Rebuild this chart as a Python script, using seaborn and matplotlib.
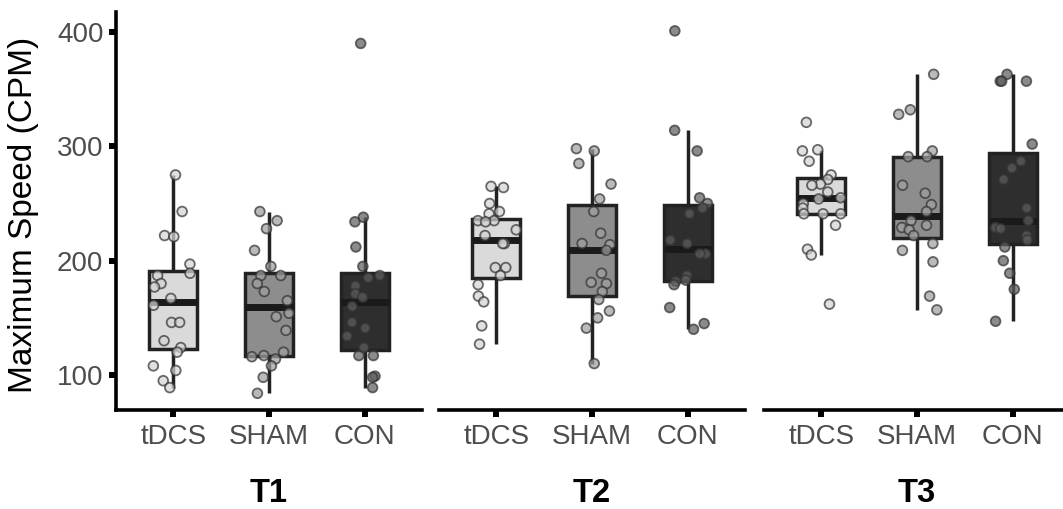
import numpy as np
import pandas as pd
import matplotlib
matplotlib.use("Agg")
import matplotlib.pyplot as plt
import seaborn as sns

# values (Maximum Speed, CPM)
groups = ["tDCS", "SHAM", "CON"]
times = ["T1", "T2", "T3"]

t1_tdcs = [275, 243, 222, 221, 197, 189, 187, 180, 177, 167, 161, 146, 146, 130, 124, 120, 108, 104, 95, 89]
t1_sham = [243, 235, 228, 209, 195, 187, 187, 180, 173, 165, 154, 151, 139, 120, 117, 116, 114, 108, 98, 84]
t1_con = [390, 238, 234, 212, 195, 187, 185, 178, 171, 168, 160, 146, 141, 134, 124, 117, 117, 99, 98, 89]

t2_tdcs = [265, 264, 250, 243, 241, 235, 235, 234, 227, 222, 215, 215, 194, 194, 187, 179, 169, 164, 143, 127]
t2_sham = [298, 296, 285, 267, 254, 243, 224, 215, 214, 209, 189, 181, 180, 173, 166, 156, 150, 141, 110]
t2_con = [401, 314, 296, 255, 250, 246, 241, 218, 215, 206, 206, 187, 183, 182, 179, 159, 145, 140]

t3_tdcs = [321, 297, 296, 287, 275, 271, 267, 266, 260, 255, 254, 250, 246, 241, 241, 241, 231, 210, 205, 162]
t3_sham = [363, 332, 328, 296, 291, 291, 266, 259, 249, 243, 235, 231, 229, 227, 222, 215, 209, 199, 169, 157]
t3_con = [363, 357, 357, 357, 302, 287, 281, 271, 246, 235, 229, 228, 222, 218, 212, 200, 189, 175, 147]

yticks = [100, 200, 300, 400]

box_colors = {"tDCS": "#dadada", "SHAM": "#8d8d8d", "CON": "#2e2e2e"}
pt_colors = {"tDCS": "#d4d4d4", "SHAM": "#a0a0a0", "CON": "#5e5e5e"}

# long table
rows = []
data = {"T1": [t1_tdcs, t1_sham, t1_con],
        "T2": [t2_tdcs, t2_sham, t2_con],
        "T3": [t3_tdcs, t3_sham, t3_con]}
for t in times:
    for g, vals in zip(groups, data[t]):
        for v in vals:
            rows.append((t, g, v))
df = pd.DataFrame(rows, columns=["time", "group", "speed"])

sns.set_style("white")
plt.rcParams["font.family"] = ["Liberation Sans", "DejaVu Sans"]

W, H = 1063, 509
fig = plt.figure(figsize=(W / 100, H / 100), dpi=100)
lefts = [116, 439, 764]
np.random.seed(3)

for i, t in enumerate(times):
    ax = fig.add_axes([lefts[i] / W, 1 - 410 / H, 306 / W, 398 / H])
    sub = df[df["time"] == t]
    sns.boxplot(data=sub, x="group", y="speed", hue="group", order=groups,
                hue_order=groups, palette=box_colors, width=0.5, linewidth=2.5,
                linecolor="#222222", showfliers=False, showcaps=False,
                medianprops=dict(linewidth=5, color="#1a1a1a"),
                legend=False, ax=ax)
    sns.stripplot(data=sub, x="group", y="speed", hue="group", order=groups,
                  hue_order=groups, palette=pt_colors, jitter=0.22, size=7,
                  linewidth=1.3, edgecolor="#333333", alpha=0.72,
                  legend=False, ax=ax)
    ax.set_xlim(-0.6, 2.6)
    ax.set_ylim(69.4, 417.5)
    ax.set_xlabel(t, fontsize=23.5, fontweight="bold", color="black")
    ax.xaxis.set_label_coords(0.5, -0.172)
    ax.tick_params(axis="x", bottom=True, labelsize=20, labelcolor="#4d4d4d",
                   length=5, width=4.3, color="black", pad=5)
    for s in ["top", "right"]:
        ax.spines[s].set_visible(False)
    ax.spines["bottom"].set_linewidth(2.6)
    ax.spines["bottom"].set_color("black")
    if i == 0:
        ax.set_yticks(yticks)
        ax.set_ylabel("Maximum Speed (CPM)", fontsize=24, color="black")
        ax.yaxis.set_label_coords(-0.25, 0.49)
        ax.tick_params(axis="y", left=True, labelsize=20, labelcolor="#4d4d4d",
                       length=5, width=4.3, color="black", pad=4)
        ax.spines["left"].set_linewidth(2.6)
        ax.spines["left"].set_color("black")
    else:
        ax.spines["left"].set_visible(False)
        ax.set_yticks([])
        ax.set_ylabel("")

fig.savefig("out.png", dpi=100)
